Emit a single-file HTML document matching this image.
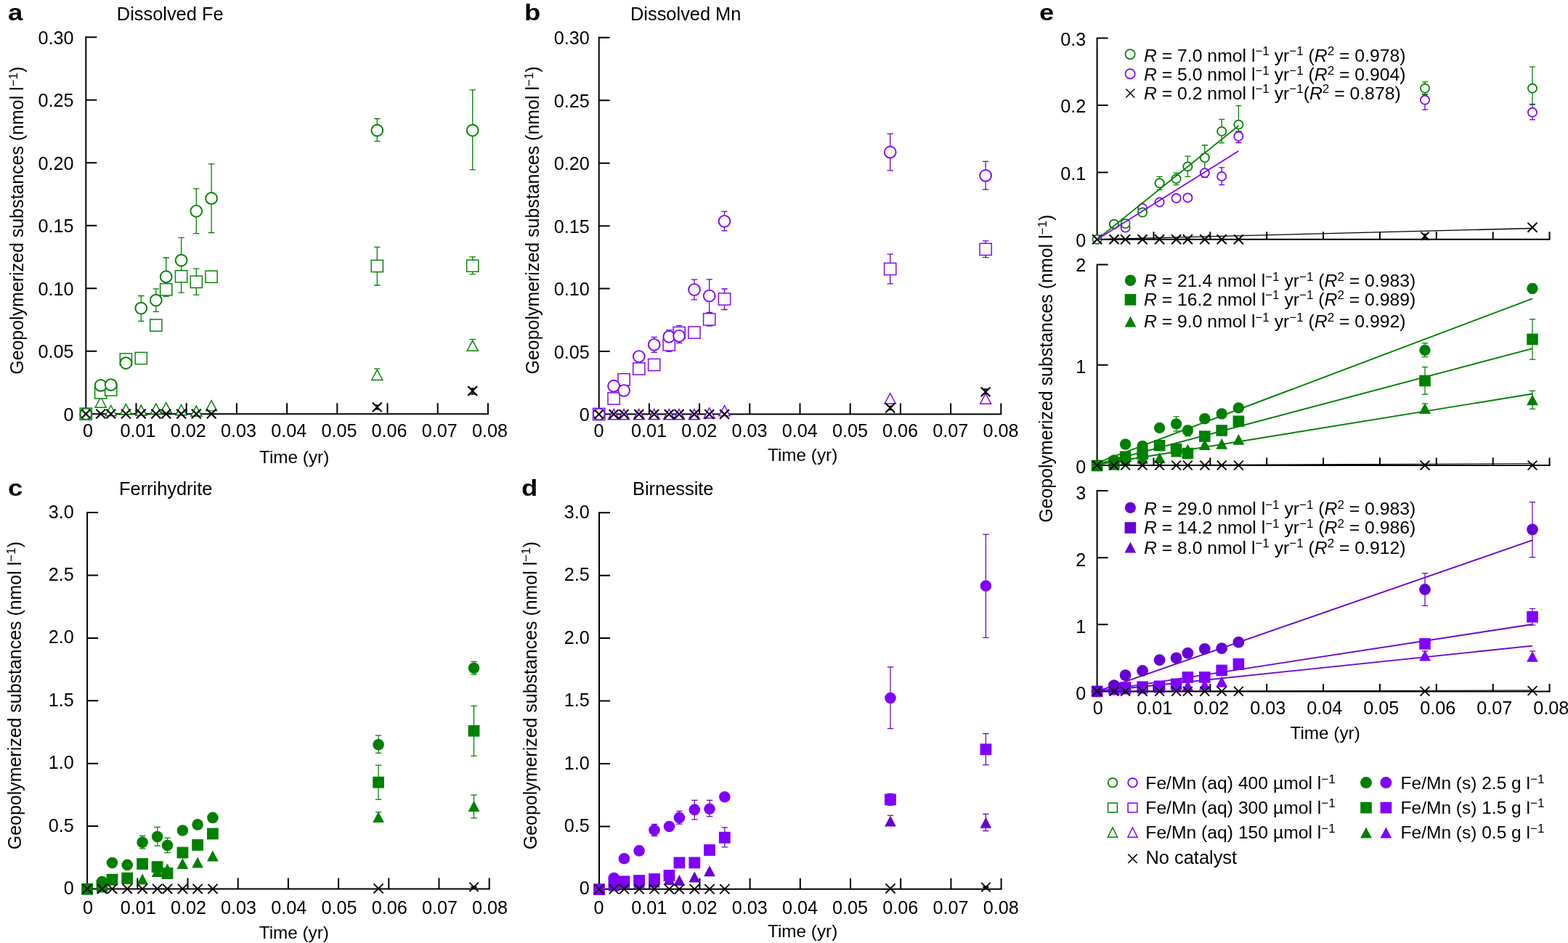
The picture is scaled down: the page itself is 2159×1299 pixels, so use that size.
<!DOCTYPE html>
<html><head><meta charset="utf-8"><title>Geopolymerized substances</title>
<style>html,body{margin:0;padding:0;background:#fff;}svg{display:block;}</style></head>
<body>
<svg width="2159" height="1299" viewBox="0 0 2159 1299" font-family="'Liberation Sans', Arial, Helvetica, sans-serif" fill="#000">
<rect width="2159" height="1299" fill="#fff"/>
<path d="M118.3 51.3V570.2H671.9" stroke="#000" stroke-width="2" fill="none" stroke-linejoin="miter" stroke-linecap="square"/>
<path d="M118.3 483.72h15M118.3 397.24h15M118.3 310.76h15M118.3 224.28h15M118.3 137.8h15M118.3 51.32h15M187.5 570.2v-15M256.7 570.2v-15M325.9 570.2v-15M395.1 570.2v-15M464.3 570.2v-15M533.5 570.2v-15M602.7 570.2v-15M671.9 570.2v-15" stroke="#000" stroke-width="2" fill="none"/>
<text x="101.5" y="579.8" font-size="25.2" text-anchor="end" font-weight="normal" >0</text>
<text x="101.5" y="493.32" font-size="25.2" text-anchor="end" font-weight="normal" >0.05</text>
<text x="101.5" y="406.84" font-size="25.2" text-anchor="end" font-weight="normal" >0.10</text>
<text x="101.5" y="320.36" font-size="25.2" text-anchor="end" font-weight="normal" >0.15</text>
<text x="101.5" y="233.88" font-size="25.2" text-anchor="end" font-weight="normal" >0.20</text>
<text x="101.5" y="147.4" font-size="25.2" text-anchor="end" font-weight="normal" >0.25</text>
<text x="101.5" y="60.92" font-size="25.2" text-anchor="end" font-weight="normal" >0.30</text>
<text x="120.9" y="602.3" font-size="25.2" text-anchor="middle" font-weight="normal" >0</text>
<text x="190.1" y="602.3" font-size="25.2" text-anchor="middle" font-weight="normal" >0.01</text>
<text x="259.3" y="602.3" font-size="25.2" text-anchor="middle" font-weight="normal" >0.02</text>
<text x="328.5" y="602.3" font-size="25.2" text-anchor="middle" font-weight="normal" >0.03</text>
<text x="397.7" y="602.3" font-size="25.2" text-anchor="middle" font-weight="normal" >0.04</text>
<text x="466.9" y="602.3" font-size="25.2" text-anchor="middle" font-weight="normal" >0.05</text>
<text x="536.1" y="602.3" font-size="25.2" text-anchor="middle" font-weight="normal" >0.06</text>
<text x="605.3" y="602.3" font-size="25.2" text-anchor="middle" font-weight="normal" >0.07</text>
<text x="674.5" y="602.3" font-size="25.2" text-anchor="middle" font-weight="normal" >0.08</text>
<text x="357" y="637.5" font-size="24.3" text-anchor="start" font-weight="normal" >Time (yr)</text>
<text x="160.8" y="28" font-size="25.4" text-anchor="start" font-weight="normal" >Dissolved Fe</text>
<text transform="translate(11,28.3) scale(1.14,1)" font-size="32" font-weight="bold">a</text>
<text transform="translate(32.2,303.7) rotate(-90)" font-size="24.95" text-anchor="middle">Geopolymerized substances (nmol l<tspan dy="-8.5" font-size="17">−1</tspan><tspan dy="8.5">)</tspan></text>
<path d="M519.3 508V508" stroke="#008000" stroke-width="1.3" fill="none"/>
<path d="M515.1 508h8.4" stroke="#008000" stroke-width="1.3" fill="none"/>
<path d="M650.7 467.5V467.5" stroke="#008000" stroke-width="1.3" fill="none"/>
<path d="M646.5 467.5h8.4" stroke="#008000" stroke-width="1.3" fill="none"/>
<path d="M270.3 370.1V406.2" stroke="#008000" stroke-width="1.3" fill="none"/>
<path d="M266.1 370.1h8.4M266.1 406.2h8.4" stroke="#008000" stroke-width="1.3" fill="none"/>
<path d="M519.3 340.4V393" stroke="#008000" stroke-width="1.3" fill="none"/>
<path d="M515.1 340.4h8.4M515.1 393h8.4" stroke="#008000" stroke-width="1.3" fill="none"/>
<path d="M650.7 353.8V377.7" stroke="#008000" stroke-width="1.3" fill="none"/>
<path d="M646.5 353.8h8.4M646.5 377.7h8.4" stroke="#008000" stroke-width="1.3" fill="none"/>
<path d="M194.3 407.5V442.3" stroke="#008000" stroke-width="1.3" fill="none"/>
<path d="M190.1 407.5h8.4M190.1 442.3h8.4" stroke="#008000" stroke-width="1.3" fill="none"/>
<path d="M214.8 397.8V429.4" stroke="#008000" stroke-width="1.3" fill="none"/>
<path d="M210.6 397.8h8.4M210.6 429.4h8.4" stroke="#008000" stroke-width="1.3" fill="none"/>
<path d="M228.7 355V408.4" stroke="#008000" stroke-width="1.3" fill="none"/>
<path d="M224.5 355h8.4M224.5 408.4h8.4" stroke="#008000" stroke-width="1.3" fill="none"/>
<path d="M249.6 327.3V403.2" stroke="#008000" stroke-width="1.3" fill="none"/>
<path d="M245.4 327.3h8.4M245.4 403.2h8.4" stroke="#008000" stroke-width="1.3" fill="none"/>
<path d="M270.3 259.8V321.7" stroke="#008000" stroke-width="1.3" fill="none"/>
<path d="M266.1 259.8h8.4M266.1 321.7h8.4" stroke="#008000" stroke-width="1.3" fill="none"/>
<path d="M291.1 225.9V320.5" stroke="#008000" stroke-width="1.3" fill="none"/>
<path d="M286.9 225.9h8.4M286.9 320.5h8.4" stroke="#008000" stroke-width="1.3" fill="none"/>
<path d="M519.3 163.5V194.6" stroke="#008000" stroke-width="1.3" fill="none"/>
<path d="M515.1 163.5h8.4M515.1 194.6h8.4" stroke="#008000" stroke-width="1.3" fill="none"/>
<path d="M650.7 123.8V233.8" stroke="#008000" stroke-width="1.3" fill="none"/>
<path d="M646.5 123.8h8.4M646.5 233.8h8.4" stroke="#008000" stroke-width="1.3" fill="none"/>
<path d="M138.7 547L146.3 561.2H131.1Z" fill="#fff" stroke="#008000" stroke-width="1.4" stroke-linejoin="miter"/>
<path d="M152.7 558.5L160.3 572.7H145.1Z" fill="#fff" stroke="#008000" stroke-width="1.4" stroke-linejoin="miter"/>
<path d="M173.4 556.6L181 570.8H165.8Z" fill="#fff" stroke="#008000" stroke-width="1.4" stroke-linejoin="miter"/>
<path d="M194.3 558.1L201.9 572.3H186.7Z" fill="#fff" stroke="#008000" stroke-width="1.4" stroke-linejoin="miter"/>
<path d="M214.8 556.1L222.4 570.3H207.2Z" fill="#fff" stroke="#008000" stroke-width="1.4" stroke-linejoin="miter"/>
<path d="M228.7 554.6L236.3 568.8H221.1Z" fill="#fff" stroke="#008000" stroke-width="1.4" stroke-linejoin="miter"/>
<path d="M249.6 557.6L257.2 571.8H242Z" fill="#fff" stroke="#008000" stroke-width="1.4" stroke-linejoin="miter"/>
<path d="M270.3 559.1L277.9 573.3H262.7Z" fill="#fff" stroke="#008000" stroke-width="1.4" stroke-linejoin="miter"/>
<path d="M291.1 551.7L298.7 565.9H283.5Z" fill="#fff" stroke="#008000" stroke-width="1.4" stroke-linejoin="miter"/>
<path d="M519.3 509.3L526.9 523.5H511.7Z" fill="#fff" stroke="#008000" stroke-width="1.4" stroke-linejoin="miter"/>
<path d="M650.7 469.1L658.3 483.3H643.1Z" fill="#fff" stroke="#008000" stroke-width="1.4" stroke-linejoin="miter"/>
<rect x="110.2" y="562.1" width="16.2" height="16.2" fill="#fff" stroke="#008000" stroke-width="1.45"/>
<rect x="130.6" y="532.8" width="16.2" height="16.2" fill="#fff" stroke="#008000" stroke-width="1.45"/>
<rect x="144.6" y="528.9" width="16.2" height="16.2" fill="#fff" stroke="#008000" stroke-width="1.45"/>
<rect x="165.3" y="486.9" width="16.2" height="16.2" fill="#fff" stroke="#008000" stroke-width="1.45"/>
<rect x="186.2" y="485.4" width="16.2" height="16.2" fill="#fff" stroke="#008000" stroke-width="1.45"/>
<rect x="206.7" y="440" width="16.2" height="16.2" fill="#fff" stroke="#008000" stroke-width="1.45"/>
<rect x="220.6" y="390.7" width="16.2" height="16.2" fill="#fff" stroke="#008000" stroke-width="1.45"/>
<rect x="241.5" y="372.7" width="16.2" height="16.2" fill="#fff" stroke="#008000" stroke-width="1.45"/>
<rect x="262.2" y="380.2" width="16.2" height="16.2" fill="#fff" stroke="#008000" stroke-width="1.45"/>
<rect x="283" y="373.1" width="16.2" height="16.2" fill="#fff" stroke="#008000" stroke-width="1.45"/>
<rect x="511.2" y="358.4" width="16.2" height="16.2" fill="#fff" stroke="#008000" stroke-width="1.45"/>
<rect x="642.6" y="358.1" width="16.2" height="16.2" fill="#fff" stroke="#008000" stroke-width="1.45"/>
<circle cx="118.3" cy="570.2" r="7.9" fill="#fff" stroke="#008000" stroke-width="1.9"/>
<circle cx="138.7" cy="530.9" r="7.9" fill="#fff" stroke="#008000" stroke-width="1.9"/>
<circle cx="152.7" cy="530.1" r="7.9" fill="#fff" stroke="#008000" stroke-width="1.9"/>
<circle cx="173.4" cy="500.1" r="7.9" fill="#fff" stroke="#008000" stroke-width="1.9"/>
<circle cx="194.3" cy="424.6" r="7.9" fill="#fff" stroke="#008000" stroke-width="1.9"/>
<circle cx="214.8" cy="413.6" r="7.9" fill="#fff" stroke="#008000" stroke-width="1.9"/>
<circle cx="228.7" cy="381.2" r="7.9" fill="#fff" stroke="#008000" stroke-width="1.9"/>
<circle cx="249.6" cy="358.6" r="7.9" fill="#fff" stroke="#008000" stroke-width="1.9"/>
<circle cx="270.3" cy="290.8" r="7.9" fill="#fff" stroke="#008000" stroke-width="1.9"/>
<circle cx="291.1" cy="273.2" r="7.9" fill="#fff" stroke="#008000" stroke-width="1.9"/>
<circle cx="519.3" cy="179.6" r="7.9" fill="#fff" stroke="#008000" stroke-width="1.9"/>
<circle cx="650.7" cy="179.6" r="7.9" fill="#fff" stroke="#008000" stroke-width="1.9"/>
<path d="M111.9 563.8L124.7 576.6M111.9 576.6L124.7 563.8" stroke="#000" stroke-width="2.1" fill="none"/>
<path d="M132.3 563.8L145.1 576.6M132.3 576.6L145.1 563.8" stroke="#000" stroke-width="2.1" fill="none"/>
<path d="M146.3 563.8L159.1 576.6M146.3 576.6L159.1 563.8" stroke="#000" stroke-width="2.1" fill="none"/>
<path d="M167 563.8L179.8 576.6M167 576.6L179.8 563.8" stroke="#000" stroke-width="2.1" fill="none"/>
<path d="M187.9 563.8L200.7 576.6M187.9 576.6L200.7 563.8" stroke="#000" stroke-width="2.1" fill="none"/>
<path d="M208.4 563.8L221.2 576.6M208.4 576.6L221.2 563.8" stroke="#000" stroke-width="2.1" fill="none"/>
<path d="M222.3 563.8L235.1 576.6M222.3 576.6L235.1 563.8" stroke="#000" stroke-width="2.1" fill="none"/>
<path d="M243.2 563.8L256 576.6M243.2 576.6L256 563.8" stroke="#000" stroke-width="2.1" fill="none"/>
<path d="M263.9 563.8L276.7 576.6M263.9 576.6L276.7 563.8" stroke="#000" stroke-width="2.1" fill="none"/>
<path d="M284.7 563.8L297.5 576.6M284.7 576.6L297.5 563.8" stroke="#000" stroke-width="2.1" fill="none"/>
<path d="M512.9 554.4L525.7 567.2M512.9 567.2L525.7 554.4" stroke="#000" stroke-width="2.1" fill="none"/>
<path d="M644.3 532.1L657.1 544.9M644.3 544.9L657.1 532.1" stroke="#000" stroke-width="2.1" fill="none"/>
<path d="M519.3 558.3V563.8" stroke="#000" stroke-width="1.5" fill="none"/>
<path d="M516.05 558.3h6.5M516.05 563.8h6.5" stroke="#000" stroke-width="1.5" fill="none"/>
<path d="M650.7 535V543" stroke="#000" stroke-width="1.5" fill="none"/>
<path d="M647.45 535h6.5M647.45 543h6.5" stroke="#000" stroke-width="1.5" fill="none"/>
<path d="M824.7 51.8V570.5H1378.2" stroke="#000" stroke-width="2" fill="none" stroke-linejoin="miter" stroke-linecap="square"/>
<path d="M824.7 484.05h15M824.7 397.6h15M824.7 311.15h15M824.7 224.7h15M824.7 138.25h15M824.7 51.8h15M893.9 570.5v-15M963.1 570.5v-15M1032.3 570.5v-15M1101.5 570.5v-15M1170.7 570.5v-15M1239.9 570.5v-15M1309.1 570.5v-15M1378.3 570.5v-15" stroke="#000" stroke-width="2" fill="none"/>
<text x="811.8" y="580.1" font-size="25.2" text-anchor="end" font-weight="normal" >0</text>
<text x="811.8" y="493.65" font-size="25.2" text-anchor="end" font-weight="normal" >0.05</text>
<text x="811.8" y="407.2" font-size="25.2" text-anchor="end" font-weight="normal" >0.10</text>
<text x="811.8" y="320.75" font-size="25.2" text-anchor="end" font-weight="normal" >0.15</text>
<text x="811.8" y="234.3" font-size="25.2" text-anchor="end" font-weight="normal" >0.20</text>
<text x="811.8" y="147.85" font-size="25.2" text-anchor="end" font-weight="normal" >0.25</text>
<text x="811.8" y="61.4" font-size="25.2" text-anchor="end" font-weight="normal" >0.30</text>
<text x="824.4" y="602" font-size="25.2" text-anchor="middle" font-weight="normal" >0</text>
<text x="893.6" y="602" font-size="25.2" text-anchor="middle" font-weight="normal" >0.01</text>
<text x="962.8" y="602" font-size="25.2" text-anchor="middle" font-weight="normal" >0.02</text>
<text x="1032" y="602" font-size="25.2" text-anchor="middle" font-weight="normal" >0.03</text>
<text x="1101.2" y="602" font-size="25.2" text-anchor="middle" font-weight="normal" >0.04</text>
<text x="1170.4" y="602" font-size="25.2" text-anchor="middle" font-weight="normal" >0.05</text>
<text x="1239.6" y="602" font-size="25.2" text-anchor="middle" font-weight="normal" >0.06</text>
<text x="1308.8" y="602" font-size="25.2" text-anchor="middle" font-weight="normal" >0.07</text>
<text x="1378" y="602" font-size="25.2" text-anchor="middle" font-weight="normal" >0.08</text>
<text x="1057" y="634.7" font-size="24.3" text-anchor="start" font-weight="normal" >Time (yr)</text>
<text x="868" y="28" font-size="25.4" text-anchor="start" font-weight="normal" >Dissolved Mn</text>
<text transform="translate(722,28.3) scale(1.14,1)" font-size="32" font-weight="bold">b</text>
<text transform="translate(742.4,303.4) rotate(-90)" font-size="24.95" text-anchor="middle">Geopolymerized substances (nmol l<tspan dy="-8.5" font-size="17">−1</tspan><tspan dy="8.5">)</tspan></text>
<path d="M921.2 484.3V472.3" stroke="#6600d4" stroke-width="1.3" fill="none"/>
<path d="M917 484.3h8.4" stroke="#6600d4" stroke-width="1.3" fill="none"/>
<path d="M935.1 448.5V448.5" stroke="#6600d4" stroke-width="1.3" fill="none"/>
<path d="M930.9 448.5h8.4" stroke="#6600d4" stroke-width="1.3" fill="none"/>
<path d="M976.7 449V437" stroke="#6600d4" stroke-width="1.3" fill="none"/>
<path d="M972.5 449h8.4" stroke="#6600d4" stroke-width="1.3" fill="none"/>
<path d="M997.5 398V426.5" stroke="#6600d4" stroke-width="1.3" fill="none"/>
<path d="M993.3 398h8.4M993.3 426.5h8.4" stroke="#6600d4" stroke-width="1.3" fill="none"/>
<path d="M1225.7 350.2V390.8" stroke="#6600d4" stroke-width="1.3" fill="none"/>
<path d="M1221.5 350.2h8.4M1221.5 390.8h8.4" stroke="#6600d4" stroke-width="1.3" fill="none"/>
<path d="M1357.1 331.9V354.6" stroke="#6600d4" stroke-width="1.3" fill="none"/>
<path d="M1352.9 331.9h8.4M1352.9 354.6h8.4" stroke="#6600d4" stroke-width="1.3" fill="none"/>
<path d="M900.7 464.3V485.3" stroke="#6600d4" stroke-width="1.3" fill="none"/>
<path d="M896.5 464.3h8.4M896.5 485.3h8.4" stroke="#6600d4" stroke-width="1.3" fill="none"/>
<path d="M921.2 454.8V454.8" stroke="#6600d4" stroke-width="1.3" fill="none"/>
<path d="M917 454.8h8.4" stroke="#6600d4" stroke-width="1.3" fill="none"/>
<path d="M935.1 472.5V460.5" stroke="#6600d4" stroke-width="1.3" fill="none"/>
<path d="M930.9 472.5h8.4" stroke="#6600d4" stroke-width="1.3" fill="none"/>
<path d="M956 385.2V412.8" stroke="#6600d4" stroke-width="1.3" fill="none"/>
<path d="M951.8 385.2h8.4M951.8 412.8h8.4" stroke="#6600d4" stroke-width="1.3" fill="none"/>
<path d="M976.7 384.8V430.5" stroke="#6600d4" stroke-width="1.3" fill="none"/>
<path d="M972.5 384.8h8.4M972.5 430.5h8.4" stroke="#6600d4" stroke-width="1.3" fill="none"/>
<path d="M997.5 291.3V317.8" stroke="#6600d4" stroke-width="1.3" fill="none"/>
<path d="M993.3 291.3h8.4M993.3 317.8h8.4" stroke="#6600d4" stroke-width="1.3" fill="none"/>
<path d="M1225.7 184.4V234.8" stroke="#6600d4" stroke-width="1.3" fill="none"/>
<path d="M1221.5 184.4h8.4M1221.5 234.8h8.4" stroke="#6600d4" stroke-width="1.3" fill="none"/>
<path d="M1357.1 222.3V261.2" stroke="#6600d4" stroke-width="1.3" fill="none"/>
<path d="M1352.9 222.3h8.4M1352.9 261.2h8.4" stroke="#6600d4" stroke-width="1.3" fill="none"/>
<path d="M845.1 563.6L852.7 577.8H837.5Z" fill="#fff" stroke="#7f00ff" stroke-width="1.4" stroke-linejoin="miter"/>
<path d="M859.1 563.6L866.7 577.8H851.5Z" fill="#fff" stroke="#7f00ff" stroke-width="1.4" stroke-linejoin="miter"/>
<path d="M879.8 563.6L887.4 577.8H872.2Z" fill="#fff" stroke="#7f00ff" stroke-width="1.4" stroke-linejoin="miter"/>
<path d="M900.7 563.6L908.3 577.8H893.1Z" fill="#fff" stroke="#7f00ff" stroke-width="1.4" stroke-linejoin="miter"/>
<path d="M921.2 563.6L928.8 577.8H913.6Z" fill="#fff" stroke="#7f00ff" stroke-width="1.4" stroke-linejoin="miter"/>
<path d="M935.1 563.6L942.7 577.8H927.5Z" fill="#fff" stroke="#7f00ff" stroke-width="1.4" stroke-linejoin="miter"/>
<path d="M956 563.6L963.6 577.8H948.4Z" fill="#fff" stroke="#7f00ff" stroke-width="1.4" stroke-linejoin="miter"/>
<path d="M976.7 561.8L984.3 576H969.1Z" fill="#fff" stroke="#7f00ff" stroke-width="1.4" stroke-linejoin="miter"/>
<path d="M997.5 558.7L1005.1 572.9H989.9Z" fill="#fff" stroke="#7f00ff" stroke-width="1.4" stroke-linejoin="miter"/>
<path d="M1225.7 541.8L1233.3 556H1218.1Z" fill="#fff" stroke="#7f00ff" stroke-width="1.4" stroke-linejoin="miter"/>
<path d="M1357.1 542.1L1364.7 556.3H1349.5Z" fill="#fff" stroke="#7f00ff" stroke-width="1.4" stroke-linejoin="miter"/>
<rect x="816.6" y="562.4" width="16.2" height="16.2" fill="#fff" stroke="#7f00ff" stroke-width="1.45"/>
<rect x="837" y="540.9" width="16.2" height="16.2" fill="#fff" stroke="#7f00ff" stroke-width="1.45"/>
<rect x="851" y="514.7" width="16.2" height="16.2" fill="#fff" stroke="#7f00ff" stroke-width="1.45"/>
<rect x="871.7" y="499.9" width="16.2" height="16.2" fill="#fff" stroke="#7f00ff" stroke-width="1.45"/>
<rect x="892.6" y="494.4" width="16.2" height="16.2" fill="#fff" stroke="#7f00ff" stroke-width="1.45"/>
<rect x="913.1" y="466.7" width="16.2" height="16.2" fill="#fff" stroke="#7f00ff" stroke-width="1.45"/>
<rect x="927" y="450.4" width="16.2" height="16.2" fill="#fff" stroke="#7f00ff" stroke-width="1.45"/>
<rect x="947.9" y="449.9" width="16.2" height="16.2" fill="#fff" stroke="#7f00ff" stroke-width="1.45"/>
<rect x="968.6" y="431.8" width="16.2" height="16.2" fill="#fff" stroke="#7f00ff" stroke-width="1.45"/>
<rect x="989.4" y="403.9" width="16.2" height="16.2" fill="#fff" stroke="#7f00ff" stroke-width="1.45"/>
<rect x="1217.6" y="362.4" width="16.2" height="16.2" fill="#fff" stroke="#7f00ff" stroke-width="1.45"/>
<rect x="1349" y="335.3" width="16.2" height="16.2" fill="#fff" stroke="#7f00ff" stroke-width="1.45"/>
<circle cx="824.7" cy="570.5" r="7.9" fill="#fff" stroke="#7f00ff" stroke-width="1.9"/>
<circle cx="845.1" cy="531.7" r="7.9" fill="#fff" stroke="#7f00ff" stroke-width="1.9"/>
<circle cx="859.1" cy="538" r="7.9" fill="#fff" stroke="#7f00ff" stroke-width="1.9"/>
<circle cx="879.8" cy="491" r="7.9" fill="#fff" stroke="#7f00ff" stroke-width="1.9"/>
<circle cx="900.7" cy="474.8" r="7.9" fill="#fff" stroke="#7f00ff" stroke-width="1.9"/>
<circle cx="921.2" cy="463.8" r="7.9" fill="#fff" stroke="#7f00ff" stroke-width="1.9"/>
<circle cx="935.1" cy="462.8" r="7.9" fill="#fff" stroke="#7f00ff" stroke-width="1.9"/>
<circle cx="956" cy="399" r="7.9" fill="#fff" stroke="#7f00ff" stroke-width="1.9"/>
<circle cx="976.7" cy="407.5" r="7.9" fill="#fff" stroke="#7f00ff" stroke-width="1.9"/>
<circle cx="997.5" cy="304.8" r="7.9" fill="#fff" stroke="#7f00ff" stroke-width="1.9"/>
<circle cx="1225.7" cy="209.7" r="7.9" fill="#fff" stroke="#7f00ff" stroke-width="1.9"/>
<circle cx="1357.1" cy="241.9" r="7.9" fill="#fff" stroke="#7f00ff" stroke-width="1.9"/>
<path d="M818.3 564.2L831.1 577M818.3 577L831.1 564.2" stroke="#000" stroke-width="2.1" fill="none"/>
<path d="M838.7 564.2L851.5 577M838.7 577L851.5 564.2" stroke="#000" stroke-width="2.1" fill="none"/>
<path d="M852.7 564.2L865.5 577M852.7 577L865.5 564.2" stroke="#000" stroke-width="2.1" fill="none"/>
<path d="M873.4 564.2L886.2 577M873.4 577L886.2 564.2" stroke="#000" stroke-width="2.1" fill="none"/>
<path d="M894.3 564.2L907.1 577M894.3 577L907.1 564.2" stroke="#000" stroke-width="2.1" fill="none"/>
<path d="M914.8 564.2L927.6 577M914.8 577L927.6 564.2" stroke="#000" stroke-width="2.1" fill="none"/>
<path d="M928.7 564.2L941.5 577M928.7 577L941.5 564.2" stroke="#000" stroke-width="2.1" fill="none"/>
<path d="M949.6 564.2L962.4 577M949.6 577L962.4 564.2" stroke="#000" stroke-width="2.1" fill="none"/>
<path d="M970.3 564.2L983.1 577M970.3 577L983.1 564.2" stroke="#000" stroke-width="2.1" fill="none"/>
<path d="M991.1 564.2L1003.9 577M991.1 577L1003.9 564.2" stroke="#000" stroke-width="2.1" fill="none"/>
<path d="M1219.3 555.6L1232.1 568.4M1219.3 568.4L1232.1 555.6" stroke="#000" stroke-width="2.1" fill="none"/>
<path d="M1350.7 533.4L1363.5 546.2M1350.7 546.2L1363.5 533.4" stroke="#000" stroke-width="2.1" fill="none"/>
<path d="M1225.7 559.5V564.5" stroke="#000" stroke-width="1.5" fill="none"/>
<path d="M1222.7 559.5h6M1222.7 564.5h6" stroke="#000" stroke-width="1.5" fill="none"/>
<path d="M1357.1 536V542.5" stroke="#000" stroke-width="1.5" fill="none"/>
<path d="M1353.85 536h6.5M1353.85 542.5h6.5" stroke="#000" stroke-width="1.5" fill="none"/>
<path d="M120.1 706.1V1224.4H673.7" stroke="#000" stroke-width="2" fill="none" stroke-linejoin="miter" stroke-linecap="square"/>
<path d="M120.1 1138.02h15M120.1 1051.64h15M120.1 965.26h15M120.1 878.88h15M120.1 792.5h15M120.1 706.12h15M189.3 1224.4v-15M258.5 1224.4v-15M327.7 1224.4v-15M396.9 1224.4v-15M466.1 1224.4v-15M535.3 1224.4v-15M604.5 1224.4v-15M673.7 1224.4v-15" stroke="#000" stroke-width="2" fill="none"/>
<text x="101.8" y="1232" font-size="25.2" text-anchor="end" font-weight="normal" >0</text>
<text x="101.8" y="1145.62" font-size="25.2" text-anchor="end" font-weight="normal" >0.5</text>
<text x="101.8" y="1059.24" font-size="25.2" text-anchor="end" font-weight="normal" >1.0</text>
<text x="101.8" y="972.86" font-size="25.2" text-anchor="end" font-weight="normal" >1.5</text>
<text x="101.8" y="886.48" font-size="25.2" text-anchor="end" font-weight="normal" >2.0</text>
<text x="101.8" y="800.1" font-size="25.2" text-anchor="end" font-weight="normal" >2.5</text>
<text x="101.8" y="713.72" font-size="25.2" text-anchor="end" font-weight="normal" >3.0</text>
<text x="121" y="1258.6" font-size="25.2" text-anchor="middle" font-weight="normal" >0</text>
<text x="190.2" y="1258.6" font-size="25.2" text-anchor="middle" font-weight="normal" >0.01</text>
<text x="259.4" y="1258.6" font-size="25.2" text-anchor="middle" font-weight="normal" >0.02</text>
<text x="328.6" y="1258.6" font-size="25.2" text-anchor="middle" font-weight="normal" >0.03</text>
<text x="397.8" y="1258.6" font-size="25.2" text-anchor="middle" font-weight="normal" >0.04</text>
<text x="467" y="1258.6" font-size="25.2" text-anchor="middle" font-weight="normal" >0.05</text>
<text x="536.2" y="1258.6" font-size="25.2" text-anchor="middle" font-weight="normal" >0.06</text>
<text x="605.4" y="1258.6" font-size="25.2" text-anchor="middle" font-weight="normal" >0.07</text>
<text x="674.6" y="1258.6" font-size="25.2" text-anchor="middle" font-weight="normal" >0.08</text>
<text x="356.7" y="1293.3" font-size="24.3" text-anchor="start" font-weight="normal" >Time (yr)</text>
<text x="164" y="682.2" font-size="25.4" text-anchor="start" font-weight="normal" >Ferrihydrite</text>
<text transform="translate(11,682.5) scale(1.14,1)" font-size="32" font-weight="bold">c</text>
<text transform="translate(29.4,958.1) rotate(-90)" font-size="24.95" text-anchor="middle">Geopolymerized substances (nmol l<tspan dy="-8.5" font-size="17">−1</tspan><tspan dy="8.5">)</tspan></text>
<path d="M521.1 1118.7V1118.7" stroke="#008000" stroke-width="1.25" fill="none"/>
<path d="M516.9 1118.7h8.4" stroke="#008000" stroke-width="1.25" fill="none"/>
<path d="M652.5 1095.2V1126.8" stroke="#008000" stroke-width="1.25" fill="none"/>
<path d="M648.3 1095.2h8.4M648.3 1126.8h8.4" stroke="#008000" stroke-width="1.25" fill="none"/>
<path d="M521.1 1054.2V1101.3" stroke="#008000" stroke-width="1.25" fill="none"/>
<path d="M516.9 1054.2h8.4M516.9 1101.3h8.4" stroke="#008000" stroke-width="1.25" fill="none"/>
<path d="M652.5 972.3V1041.3" stroke="#008000" stroke-width="1.25" fill="none"/>
<path d="M648.3 972.3h8.4M648.3 1041.3h8.4" stroke="#008000" stroke-width="1.25" fill="none"/>
<path d="M196.1 1151.4V1168.8" stroke="#008000" stroke-width="1.25" fill="none"/>
<path d="M191.9 1151.4h8.4M191.9 1168.8h8.4" stroke="#008000" stroke-width="1.25" fill="none"/>
<path d="M216.6 1139.4V1165.2" stroke="#008000" stroke-width="1.25" fill="none"/>
<path d="M212.4 1139.4h8.4M212.4 1165.2h8.4" stroke="#008000" stroke-width="1.25" fill="none"/>
<path d="M230.5 1154V1174.5" stroke="#008000" stroke-width="1.25" fill="none"/>
<path d="M226.3 1154h8.4M226.3 1174.5h8.4" stroke="#008000" stroke-width="1.25" fill="none"/>
<path d="M521.1 1013.2V1037.4" stroke="#008000" stroke-width="1.25" fill="none"/>
<path d="M516.9 1013.2h8.4M516.9 1037.4h8.4" stroke="#008000" stroke-width="1.25" fill="none"/>
<path d="M652.5 911.3V929" stroke="#008000" stroke-width="1.25" fill="none"/>
<path d="M648.3 911.3h8.4M648.3 929h8.4" stroke="#008000" stroke-width="1.25" fill="none"/>
<path d="M140.5 1214.4L148.4 1229.4H132.6Z" fill="#008000"/>
<path d="M154.5 1204.4L162.4 1219.4H146.6Z" fill="#008000"/>
<path d="M175.2 1202.9L183.1 1217.9H167.3Z" fill="#008000"/>
<path d="M196.1 1203.6L204 1218.6H188.2Z" fill="#008000"/>
<path d="M216.6 1192.9L224.5 1207.9H208.7Z" fill="#008000"/>
<path d="M230.5 1189.4L238.4 1204.4H222.6Z" fill="#008000"/>
<path d="M251.4 1182.1L259.3 1197.1H243.5Z" fill="#008000"/>
<path d="M272.1 1180.6L280 1195.6H264.2Z" fill="#008000"/>
<path d="M292.9 1171.5L300.8 1186.5H285Z" fill="#008000"/>
<path d="M521.1 1117.9L529 1132.9H513.2Z" fill="#008000"/>
<path d="M652.5 1103L660.4 1118H644.6Z" fill="#008000"/>
<rect x="112.2" y="1216.9" width="15.8" height="15.8" fill="#008000"/>
<rect x="132.6" y="1211.9" width="15.8" height="15.8" fill="#008000"/>
<rect x="146.6" y="1203.8" width="15.8" height="15.8" fill="#008000"/>
<rect x="167.3" y="1201.8" width="15.8" height="15.8" fill="#008000"/>
<rect x="188.2" y="1182.1" width="15.8" height="15.8" fill="#008000"/>
<rect x="208.7" y="1186.2" width="15.8" height="15.8" fill="#008000"/>
<rect x="222.6" y="1195.1" width="15.8" height="15.8" fill="#008000"/>
<rect x="243.5" y="1166.6" width="15.8" height="15.8" fill="#008000"/>
<rect x="264.2" y="1156.1" width="15.8" height="15.8" fill="#008000"/>
<rect x="285" y="1140.6" width="15.8" height="15.8" fill="#008000"/>
<rect x="513.2" y="1069.8" width="15.8" height="15.8" fill="#008000"/>
<rect x="644.6" y="998.9" width="15.8" height="15.8" fill="#008000"/>
<circle cx="120.1" cy="1224.4" r="7.8" fill="#008000"/>
<circle cx="140.5" cy="1214.5" r="7.8" fill="#008000"/>
<circle cx="154.5" cy="1188.6" r="7.8" fill="#008000"/>
<circle cx="175.2" cy="1191.4" r="7.8" fill="#008000"/>
<circle cx="196.1" cy="1160.2" r="7.8" fill="#008000"/>
<circle cx="216.6" cy="1152.6" r="7.8" fill="#008000"/>
<circle cx="230.5" cy="1164.5" r="7.8" fill="#008000"/>
<circle cx="251.4" cy="1144" r="7.8" fill="#008000"/>
<circle cx="272.1" cy="1135.9" r="7.8" fill="#008000"/>
<circle cx="292.9" cy="1126.4" r="7.8" fill="#008000"/>
<circle cx="521.1" cy="1025.8" r="7.8" fill="#008000"/>
<circle cx="652.5" cy="920.3" r="7.8" fill="#008000"/>
<path d="M113.5 1217.8L126.7 1231M113.5 1231L126.7 1217.8" stroke="#000" stroke-width="1.85" fill="none"/>
<path d="M133.9 1217.8L147.1 1231M133.9 1231L147.1 1217.8" stroke="#000" stroke-width="1.85" fill="none"/>
<path d="M147.9 1217.8L161.1 1231M147.9 1231L161.1 1217.8" stroke="#000" stroke-width="1.85" fill="none"/>
<path d="M168.6 1217.8L181.8 1231M168.6 1231L181.8 1217.8" stroke="#000" stroke-width="1.85" fill="none"/>
<path d="M189.5 1217.8L202.7 1231M189.5 1231L202.7 1217.8" stroke="#000" stroke-width="1.85" fill="none"/>
<path d="M210 1217.8L223.2 1231M210 1231L223.2 1217.8" stroke="#000" stroke-width="1.85" fill="none"/>
<path d="M223.9 1217.8L237.1 1231M223.9 1231L237.1 1217.8" stroke="#000" stroke-width="1.85" fill="none"/>
<path d="M244.8 1217.8L258 1231M244.8 1231L258 1217.8" stroke="#000" stroke-width="1.85" fill="none"/>
<path d="M265.5 1217.8L278.7 1231M265.5 1231L278.7 1217.8" stroke="#000" stroke-width="1.85" fill="none"/>
<path d="M286.3 1217.8L299.5 1231M286.3 1231L299.5 1217.8" stroke="#000" stroke-width="1.85" fill="none"/>
<path d="M514.5 1217.3L527.7 1230.5M514.5 1230.5L527.7 1217.3" stroke="#000" stroke-width="1.85" fill="none"/>
<path d="M646.3 1215.7L658.7 1228.1M646.3 1228.1L658.7 1215.7" stroke="#000" stroke-width="1.85" fill="none"/>
<path d="M652.5 1221.4V1222.4" stroke="#000" stroke-width="1.5" fill="none"/>
<path d="M648.5 1221.4h8M648.5 1222.4h8" stroke="#000" stroke-width="1.5" fill="none"/>
<path d="M825 706.3V1224.8H1378.5" stroke="#000" stroke-width="2" fill="none" stroke-linejoin="miter" stroke-linecap="square"/>
<path d="M825 1138.38h15M825 1051.96h15M825 965.54h15M825 879.12h15M825 792.7h15M825 706.28h15M894.2 1224.8v-15M963.4 1224.8v-15M1032.6 1224.8v-15M1101.8 1224.8v-15M1171 1224.8v-15M1240.2 1224.8v-15M1309.4 1224.8v-15M1378.6 1224.8v-15" stroke="#000" stroke-width="2" fill="none"/>
<text x="811.8" y="1232.4" font-size="25.2" text-anchor="end" font-weight="normal" >0</text>
<text x="811.8" y="1145.98" font-size="25.2" text-anchor="end" font-weight="normal" >0.5</text>
<text x="811.8" y="1059.56" font-size="25.2" text-anchor="end" font-weight="normal" >1.0</text>
<text x="811.8" y="973.14" font-size="25.2" text-anchor="end" font-weight="normal" >1.5</text>
<text x="811.8" y="886.72" font-size="25.2" text-anchor="end" font-weight="normal" >2.0</text>
<text x="811.8" y="800.3" font-size="25.2" text-anchor="end" font-weight="normal" >2.5</text>
<text x="811.8" y="713.88" font-size="25.2" text-anchor="end" font-weight="normal" >3.0</text>
<text x="824.6" y="1258.6" font-size="25.2" text-anchor="middle" font-weight="normal" >0</text>
<text x="893.8" y="1258.6" font-size="25.2" text-anchor="middle" font-weight="normal" >0.01</text>
<text x="963" y="1258.6" font-size="25.2" text-anchor="middle" font-weight="normal" >0.02</text>
<text x="1032.2" y="1258.6" font-size="25.2" text-anchor="middle" font-weight="normal" >0.03</text>
<text x="1101.4" y="1258.6" font-size="25.2" text-anchor="middle" font-weight="normal" >0.04</text>
<text x="1170.6" y="1258.6" font-size="25.2" text-anchor="middle" font-weight="normal" >0.05</text>
<text x="1239.8" y="1258.6" font-size="25.2" text-anchor="middle" font-weight="normal" >0.06</text>
<text x="1309" y="1258.6" font-size="25.2" text-anchor="middle" font-weight="normal" >0.07</text>
<text x="1378.2" y="1258.6" font-size="25.2" text-anchor="middle" font-weight="normal" >0.08</text>
<text x="1057" y="1290.8" font-size="24.3" text-anchor="start" font-weight="normal" >Time (yr)</text>
<text x="871" y="682.2" font-size="25.4" text-anchor="start" font-weight="normal" >Birnessite</text>
<text transform="translate(718,682.8) scale(1.14,1)" font-size="32" font-weight="bold">d</text>
<text transform="translate(738.9,958.1) rotate(-90)" font-size="24.95" text-anchor="middle">Geopolymerized substances (nmol l<tspan dy="-8.5" font-size="17">−1</tspan><tspan dy="8.5">)</tspan></text>
<path d="M1226 1123.3V1123.3" stroke="#6600d4" stroke-width="1.25" fill="none"/>
<path d="M1221.8 1123.3h8.4" stroke="#6600d4" stroke-width="1.25" fill="none"/>
<path d="M1357.4 1121.3V1144.5" stroke="#6600d4" stroke-width="1.25" fill="none"/>
<path d="M1353.2 1121.3h8.4M1353.2 1144.5h8.4" stroke="#6600d4" stroke-width="1.25" fill="none"/>
<path d="M997.8 1139.8V1166.8" stroke="#6600d4" stroke-width="1.25" fill="none"/>
<path d="M993.6 1139.8h8.4M993.6 1166.8h8.4" stroke="#6600d4" stroke-width="1.25" fill="none"/>
<path d="M1226 1093.4V1109.3" stroke="#6600d4" stroke-width="1.25" fill="none"/>
<path d="M1221.8 1093.4h8.4M1221.8 1109.3h8.4" stroke="#6600d4" stroke-width="1.25" fill="none"/>
<path d="M1357.4 1010.7V1053.5" stroke="#6600d4" stroke-width="1.25" fill="none"/>
<path d="M1353.2 1010.7h8.4M1353.2 1053.5h8.4" stroke="#6600d4" stroke-width="1.25" fill="none"/>
<path d="M901 1135.3V1151.6" stroke="#6600d4" stroke-width="1.25" fill="none"/>
<path d="M896.8 1135.3h8.4M896.8 1151.6h8.4" stroke="#6600d4" stroke-width="1.25" fill="none"/>
<path d="M935.4 1117.4V1135.1" stroke="#6600d4" stroke-width="1.25" fill="none"/>
<path d="M931.2 1117.4h8.4M931.2 1135.1h8.4" stroke="#6600d4" stroke-width="1.25" fill="none"/>
<path d="M956.3 1102.3V1128.9" stroke="#6600d4" stroke-width="1.25" fill="none"/>
<path d="M952.1 1102.3h8.4M952.1 1128.9h8.4" stroke="#6600d4" stroke-width="1.25" fill="none"/>
<path d="M977 1102.4V1124.7" stroke="#6600d4" stroke-width="1.25" fill="none"/>
<path d="M972.8 1102.4h8.4M972.8 1124.7h8.4" stroke="#6600d4" stroke-width="1.25" fill="none"/>
<path d="M1226 918.9V1003.6" stroke="#6600d4" stroke-width="1.25" fill="none"/>
<path d="M1221.8 918.9h8.4M1221.8 1003.6h8.4" stroke="#6600d4" stroke-width="1.25" fill="none"/>
<path d="M1357.4 736.2V878.4" stroke="#6600d4" stroke-width="1.25" fill="none"/>
<path d="M1353.2 736.2h8.4M1353.2 878.4h8.4" stroke="#6600d4" stroke-width="1.25" fill="none"/>
<path d="M845.4 1212.4L853.3 1227.4H837.5Z" fill="#6600d4"/>
<path d="M859.4 1208.4L867.3 1223.4H851.5Z" fill="#6600d4"/>
<path d="M880.1 1208.4L888 1223.4H872.2Z" fill="#6600d4"/>
<path d="M901 1207.6L908.9 1222.6H893.1Z" fill="#6600d4"/>
<path d="M921.5 1203.9L929.4 1218.9H913.6Z" fill="#6600d4"/>
<path d="M935.4 1204.9L943.3 1219.9H927.5Z" fill="#6600d4"/>
<path d="M956.3 1200.6L964.2 1215.6H948.4Z" fill="#6600d4"/>
<path d="M977 1192.2L984.9 1207.2H969.1Z" fill="#6600d4"/>
<path d="M997.8 1146.4L1005.7 1161.4H989.9Z" fill="#6600d4"/>
<path d="M1226 1123.4L1233.9 1138.4H1218.1Z" fill="#6600d4"/>
<path d="M1357.4 1125.7L1365.3 1140.7H1349.5Z" fill="#6600d4"/>
<rect x="817.1" y="1217.3" width="15.8" height="15.8" fill="#7f00ff"/>
<rect x="837.5" y="1209.1" width="15.8" height="15.8" fill="#7f00ff"/>
<rect x="851.5" y="1206.4" width="15.8" height="15.8" fill="#7f00ff"/>
<rect x="872.2" y="1205.1" width="15.8" height="15.8" fill="#7f00ff"/>
<rect x="893.1" y="1203.1" width="15.8" height="15.8" fill="#7f00ff"/>
<rect x="913.6" y="1198.1" width="15.8" height="15.8" fill="#7f00ff"/>
<rect x="927.5" y="1180.5" width="15.8" height="15.8" fill="#7f00ff"/>
<rect x="948.4" y="1180.5" width="15.8" height="15.8" fill="#7f00ff"/>
<rect x="969.1" y="1163.1" width="15.8" height="15.8" fill="#7f00ff"/>
<rect x="989.9" y="1145.8" width="15.8" height="15.8" fill="#7f00ff"/>
<rect x="1218.1" y="1093.5" width="15.8" height="15.8" fill="#7f00ff"/>
<rect x="1349.5" y="1024.4" width="15.8" height="15.8" fill="#7f00ff"/>
<circle cx="825" cy="1224.8" r="7.8" fill="#7f00ff"/>
<circle cx="845.4" cy="1209.6" r="7.8" fill="#7f00ff"/>
<circle cx="859.4" cy="1182.8" r="7.8" fill="#7f00ff"/>
<circle cx="880.1" cy="1171.9" r="7.8" fill="#7f00ff"/>
<circle cx="901" cy="1143.6" r="7.8" fill="#7f00ff"/>
<circle cx="921.5" cy="1138.5" r="7.8" fill="#7f00ff"/>
<circle cx="935.4" cy="1126.4" r="7.8" fill="#7f00ff"/>
<circle cx="956.3" cy="1115.4" r="7.8" fill="#7f00ff"/>
<circle cx="977" cy="1114.2" r="7.8" fill="#7f00ff"/>
<circle cx="997.8" cy="1097.7" r="7.8" fill="#7f00ff"/>
<circle cx="1226" cy="961.6" r="7.8" fill="#7f00ff"/>
<circle cx="1357.4" cy="807.1" r="7.8" fill="#7f00ff"/>
<path d="M818.4 1218.2L831.6 1231.4M818.4 1231.4L831.6 1218.2" stroke="#000" stroke-width="1.85" fill="none"/>
<path d="M838.8 1218.2L852 1231.4M838.8 1231.4L852 1218.2" stroke="#000" stroke-width="1.85" fill="none"/>
<path d="M852.8 1218.2L866 1231.4M852.8 1231.4L866 1218.2" stroke="#000" stroke-width="1.85" fill="none"/>
<path d="M873.5 1218.2L886.7 1231.4M873.5 1231.4L886.7 1218.2" stroke="#000" stroke-width="1.85" fill="none"/>
<path d="M894.4 1218.2L907.6 1231.4M894.4 1231.4L907.6 1218.2" stroke="#000" stroke-width="1.85" fill="none"/>
<path d="M914.9 1218.2L928.1 1231.4M914.9 1231.4L928.1 1218.2" stroke="#000" stroke-width="1.85" fill="none"/>
<path d="M928.8 1218.2L942 1231.4M928.8 1231.4L942 1218.2" stroke="#000" stroke-width="1.85" fill="none"/>
<path d="M949.7 1218.2L962.9 1231.4M949.7 1231.4L962.9 1218.2" stroke="#000" stroke-width="1.85" fill="none"/>
<path d="M970.4 1218.2L983.6 1231.4M970.4 1231.4L983.6 1218.2" stroke="#000" stroke-width="1.85" fill="none"/>
<path d="M991.2 1218.2L1004.4 1231.4M991.2 1231.4L1004.4 1218.2" stroke="#000" stroke-width="1.85" fill="none"/>
<path d="M1219.4 1217.3L1232.6 1230.5M1219.4 1230.5L1232.6 1217.3" stroke="#000" stroke-width="1.85" fill="none"/>
<path d="M1351.2 1215.9L1363.6 1228.3M1351.2 1228.3L1363.6 1215.9" stroke="#000" stroke-width="1.85" fill="none"/>
<path d="M1357.4 1221.6V1222.6" stroke="#000" stroke-width="1.5" fill="none"/>
<path d="M1353.4 1221.6h8M1353.4 1222.6h8" stroke="#000" stroke-width="1.5" fill="none"/>
<path d="M1510.6 52.8V329.8H2133.56" stroke="#000" stroke-width="2" fill="none" stroke-linejoin="miter" stroke-linecap="square"/>
<path d="M1510.6 237.4h15M1510.6 145h15M1510.6 52.6h15M1588.47 329.8v-10.5M1666.34 329.8v-10.5M1744.21 329.8v-10.5M1822.08 329.8v-10.5M1899.95 329.8v-10.5M1977.82 329.8v-10.5M2055.69 329.8v-10.5M2133.56 329.8v-10.5" stroke="#000" stroke-width="2" fill="none"/>
<text x="1495.2" y="340.1" font-size="25.2" text-anchor="end" font-weight="normal" >0</text>
<text x="1495.2" y="247.7" font-size="25.2" text-anchor="end" font-weight="normal" >0.1</text>
<text x="1495.2" y="155.3" font-size="25.2" text-anchor="end" font-weight="normal" >0.2</text>
<text x="1495.2" y="62.9" font-size="25.2" text-anchor="end" font-weight="normal" >0.3</text>
<path d="M1658.8 233.5V244.3" stroke="#6600d4" stroke-width="1.3" fill="none"/>
<path d="M1654.8 233.5h8M1654.8 244.3h8" stroke="#6600d4" stroke-width="1.3" fill="none"/>
<path d="M1682.2 230.8V254.7" stroke="#6600d4" stroke-width="1.3" fill="none"/>
<path d="M1678.2 230.8h8M1678.2 254.7h8" stroke="#6600d4" stroke-width="1.3" fill="none"/>
<path d="M1705.4 180.9V196.5" stroke="#6600d4" stroke-width="1.3" fill="none"/>
<path d="M1701.4 180.9h8M1701.4 196.5h8" stroke="#6600d4" stroke-width="1.3" fill="none"/>
<path d="M1962 130V151.1" stroke="#6600d4" stroke-width="1.3" fill="none"/>
<path d="M1958 130h8M1958 151.1h8" stroke="#6600d4" stroke-width="1.3" fill="none"/>
<path d="M2110 144V164.8" stroke="#6600d4" stroke-width="1.3" fill="none"/>
<path d="M2106 144h8M2106 164.8h8" stroke="#6600d4" stroke-width="1.3" fill="none"/>
<path d="M1596.6 243.3V261.4" stroke="#008000" stroke-width="1.3" fill="none"/>
<path d="M1592.6 243.3h8M1592.6 261.4h8" stroke="#008000" stroke-width="1.3" fill="none"/>
<path d="M1619.6 238.1V254.7" stroke="#008000" stroke-width="1.3" fill="none"/>
<path d="M1615.6 238.1h8M1615.6 254.7h8" stroke="#008000" stroke-width="1.3" fill="none"/>
<path d="M1635.4 215.2V243.3" stroke="#008000" stroke-width="1.3" fill="none"/>
<path d="M1631.4 215.2h8M1631.4 243.3h8" stroke="#008000" stroke-width="1.3" fill="none"/>
<path d="M1658.8 200V235" stroke="#008000" stroke-width="1.3" fill="none"/>
<path d="M1654.8 200h8M1654.8 235h8" stroke="#008000" stroke-width="1.3" fill="none"/>
<path d="M1682.2 164.3V196.9" stroke="#008000" stroke-width="1.3" fill="none"/>
<path d="M1678.2 164.3h8M1678.2 196.9h8" stroke="#008000" stroke-width="1.3" fill="none"/>
<path d="M1705.4 145.6V181" stroke="#008000" stroke-width="1.3" fill="none"/>
<path d="M1701.4 145.6h8M1701.4 181h8" stroke="#008000" stroke-width="1.3" fill="none"/>
<path d="M1962 112.8V130" stroke="#008000" stroke-width="1.3" fill="none"/>
<path d="M1958 112.8h8M1958 130h8" stroke="#008000" stroke-width="1.3" fill="none"/>
<path d="M2110 92.1V143.4" stroke="#008000" stroke-width="1.3" fill="none"/>
<path d="M2106 92.1h8M2106 143.4h8" stroke="#008000" stroke-width="1.3" fill="none"/>
<circle cx="1534" cy="308.9" r="6.1" fill="#fff" stroke="#7f00ff" stroke-width="1.75"/>
<circle cx="1549.6" cy="313.6" r="6.1" fill="#fff" stroke="#7f00ff" stroke-width="1.75"/>
<circle cx="1573.1" cy="286.6" r="6.1" fill="#fff" stroke="#7f00ff" stroke-width="1.75"/>
<circle cx="1596.6" cy="278.4" r="6.1" fill="#fff" stroke="#7f00ff" stroke-width="1.75"/>
<circle cx="1619.6" cy="273" r="6.1" fill="#fff" stroke="#7f00ff" stroke-width="1.75"/>
<circle cx="1635.4" cy="272.4" r="6.1" fill="#fff" stroke="#7f00ff" stroke-width="1.75"/>
<circle cx="1658.8" cy="238.1" r="6.1" fill="#fff" stroke="#7f00ff" stroke-width="1.75"/>
<circle cx="1682.2" cy="242.9" r="6.1" fill="#fff" stroke="#7f00ff" stroke-width="1.75"/>
<circle cx="1705.4" cy="187.8" r="6.1" fill="#fff" stroke="#7f00ff" stroke-width="1.75"/>
<circle cx="1962" cy="137.6" r="6.1" fill="#fff" stroke="#7f00ff" stroke-width="1.75"/>
<circle cx="2110" cy="154.8" r="6.1" fill="#fff" stroke="#7f00ff" stroke-width="1.75"/>
<circle cx="1510.6" cy="329.8" r="6.1" fill="#fff" stroke="#008000" stroke-width="1.75"/>
<circle cx="1534" cy="308.6" r="6.1" fill="#fff" stroke="#008000" stroke-width="1.75"/>
<circle cx="1549.6" cy="308" r="6.1" fill="#fff" stroke="#008000" stroke-width="1.75"/>
<circle cx="1573.1" cy="292.5" r="6.1" fill="#fff" stroke="#008000" stroke-width="1.75"/>
<circle cx="1596.6" cy="252.2" r="6.1" fill="#fff" stroke="#008000" stroke-width="1.75"/>
<circle cx="1619.6" cy="246.4" r="6.1" fill="#fff" stroke="#008000" stroke-width="1.75"/>
<circle cx="1635.4" cy="229.4" r="6.1" fill="#fff" stroke="#008000" stroke-width="1.75"/>
<circle cx="1658.8" cy="217.3" r="6.1" fill="#fff" stroke="#008000" stroke-width="1.75"/>
<circle cx="1682.2" cy="180.9" r="6.1" fill="#fff" stroke="#008000" stroke-width="1.75"/>
<circle cx="1705.4" cy="171.6" r="6.1" fill="#fff" stroke="#008000" stroke-width="1.75"/>
<circle cx="1962" cy="121.6" r="6.1" fill="#fff" stroke="#008000" stroke-width="1.75"/>
<circle cx="2110" cy="121.6" r="6.1" fill="#fff" stroke="#008000" stroke-width="1.75"/>
<path d="M1504.1 323.3L1517.1 336.3M1504.1 336.3L1517.1 323.3" stroke="#000" stroke-width="2" fill="none"/>
<path d="M1527.5 323.3L1540.5 336.3M1527.5 336.3L1540.5 323.3" stroke="#000" stroke-width="2" fill="none"/>
<path d="M1543.1 323.3L1556.1 336.3M1543.1 336.3L1556.1 323.3" stroke="#000" stroke-width="2" fill="none"/>
<path d="M1566.6 323.3L1579.6 336.3M1566.6 336.3L1579.6 323.3" stroke="#000" stroke-width="2" fill="none"/>
<path d="M1590.1 323.3L1603.1 336.3M1590.1 336.3L1603.1 323.3" stroke="#000" stroke-width="2" fill="none"/>
<path d="M1613.1 323.3L1626.1 336.3M1613.1 336.3L1626.1 323.3" stroke="#000" stroke-width="2" fill="none"/>
<path d="M1628.9 323.3L1641.9 336.3M1628.9 336.3L1641.9 323.3" stroke="#000" stroke-width="2" fill="none"/>
<path d="M1652.3 323.3L1665.3 336.3M1652.3 336.3L1665.3 323.3" stroke="#000" stroke-width="2" fill="none"/>
<path d="M1675.7 323.3L1688.7 336.3M1675.7 336.3L1688.7 323.3" stroke="#000" stroke-width="2" fill="none"/>
<path d="M1698.9 323.3L1711.9 336.3M1698.9 336.3L1711.9 323.3" stroke="#000" stroke-width="2" fill="none"/>
<path d="M1956.5 319.8L1967.5 330.8M1956.5 330.8L1967.5 319.8" stroke="#000" stroke-width="2" fill="none"/>
<path d="M1962 322.5V328" stroke="#000" stroke-width="1.5" fill="none"/>
<path d="M1959 322.5h6M1959 328h6" stroke="#000" stroke-width="1.5" fill="none"/>
<path d="M2103.5 306.8L2116.5 319.8M2103.5 319.8L2116.5 306.8" stroke="#000" stroke-width="2" fill="none"/>
<line x1="1510.6" y1="329.8" x2="1705.4" y2="173.24" stroke="#008000" stroke-width="1.75" stroke-linecap="butt"/>
<line x1="1510.6" y1="329.8" x2="1705.4" y2="208.04" stroke="#7f00ff" stroke-width="1.75" stroke-linecap="butt"/>
<line x1="1510.6" y1="329.8" x2="2110" y2="314.5" stroke="#000" stroke-width="1.3" stroke-linecap="butt"/>
<circle cx="1556.1" cy="74.8" r="6.6" fill="#fff" stroke="#008000" stroke-width="1.75"/>
<text x="1575" y="84.6" font-size="24.75" text-anchor="start" font-weight="normal" ><tspan font-style="italic">R</tspan> = 7.0 nmol l<tspan dy="-8.5" font-size="17">−1</tspan><tspan dy="8.5"> yr</tspan><tspan dy="-8.5" font-size="17">−1</tspan><tspan dy="8.5"> (</tspan><tspan font-style="italic">R</tspan><tspan dy="-8.5" font-size="17">2</tspan><tspan dy="8.5"> = 0.978)</tspan></text>
<circle cx="1556.1" cy="101.7" r="6.6" fill="#fff" stroke="#7f00ff" stroke-width="1.75"/>
<text x="1575" y="111.2" font-size="24.75" text-anchor="start" font-weight="normal" ><tspan font-style="italic">R</tspan> = 5.0 nmol l<tspan dy="-8.5" font-size="17">−1</tspan><tspan dy="8.5"> yr</tspan><tspan dy="-8.5" font-size="17">−1</tspan><tspan dy="8.5"> (</tspan><tspan font-style="italic">R</tspan><tspan dy="-8.5" font-size="17">2</tspan><tspan dy="8.5"> = 0.904)</tspan></text>
<path d="M1550.3 122.5L1562.3 134.5M1550.3 134.5L1562.3 122.5" stroke="#000" stroke-width="1.5" fill="none"/>
<text x="1575" y="136.9" font-size="24.75" text-anchor="start" font-weight="normal" ><tspan font-style="italic">R</tspan> = 0.2 nmol l<tspan dy="-8.5" font-size="17">−1</tspan><tspan dy="8.5"> yr</tspan><tspan dy="-8.5" font-size="17">−1</tspan><tspan dy="8.5">(</tspan><tspan font-style="italic">R</tspan><tspan dy="-8.5" font-size="17">2</tspan><tspan dy="8.5"> = 0.878)</tspan></text>
<path d="M1510.6 364.8V641H2133.56" stroke="#000" stroke-width="2" fill="none" stroke-linejoin="miter" stroke-linecap="square"/>
<path d="M1510.6 502.8h15M1510.6 364.6h15M1588.47 641v-10.5M1666.34 641v-10.5M1744.21 641v-10.5M1822.08 641v-10.5M1899.95 641v-10.5M1977.82 641v-10.5M2055.69 641v-10.5M2133.56 641v-10.5" stroke="#000" stroke-width="2" fill="none"/>
<text x="1495.2" y="652" font-size="25.2" text-anchor="end" font-weight="normal" >0</text>
<text x="1495.2" y="513.8" font-size="25.2" text-anchor="end" font-weight="normal" >1</text>
<text x="1495.2" y="373.6" font-size="25.2" text-anchor="end" font-weight="normal" >2</text>
<line x1="1510.6" y1="637.6" x2="2110" y2="411.3" stroke="#008000" stroke-width="1.9" stroke-linecap="butt"/>
<line x1="1510.6" y1="639.3" x2="2110" y2="480.1" stroke="#008000" stroke-width="1.9" stroke-linecap="butt"/>
<line x1="1510.6" y1="640" x2="2110" y2="542.5" stroke="#008000" stroke-width="1.9" stroke-linecap="butt"/>
<path d="M1962 556V556" stroke="#008000" stroke-width="1.25" fill="none"/>
<path d="M1957.8 556h8.4" stroke="#008000" stroke-width="1.25" fill="none"/>
<path d="M2110 538.3V563.3" stroke="#008000" stroke-width="1.25" fill="none"/>
<path d="M2105.8 538.3h8.4M2105.8 563.3h8.4" stroke="#008000" stroke-width="1.25" fill="none"/>
<path d="M1962 505.5V543" stroke="#008000" stroke-width="1.25" fill="none"/>
<path d="M1957.8 505.5h8.4M1957.8 543h8.4" stroke="#008000" stroke-width="1.25" fill="none"/>
<path d="M2110 439.7V495.1" stroke="#008000" stroke-width="1.25" fill="none"/>
<path d="M2105.8 439.7h8.4M2105.8 495.1h8.4" stroke="#008000" stroke-width="1.25" fill="none"/>
<path d="M1619.6 573.9V593.9" stroke="#008000" stroke-width="1.25" fill="none"/>
<path d="M1615.4 573.9h8.4M1615.4 593.9h8.4" stroke="#008000" stroke-width="1.25" fill="none"/>
<path d="M1635.4 586.3V600.6" stroke="#008000" stroke-width="1.25" fill="none"/>
<path d="M1631.2 586.3h8.4M1631.2 600.6h8.4" stroke="#008000" stroke-width="1.25" fill="none"/>
<path d="M1962 472.7V491.7" stroke="#008000" stroke-width="1.25" fill="none"/>
<path d="M1957.8 472.7h8.4M1957.8 491.7h8.4" stroke="#008000" stroke-width="1.25" fill="none"/>
<path d="M2110 391.2V403.8" stroke="#008000" stroke-width="1.25" fill="none"/>
<path d="M2105.8 391.2h8.4M2105.8 403.8h8.4" stroke="#008000" stroke-width="1.25" fill="none"/>
<path d="M1534 632.4L1541.9 647.4H1526.1Z" fill="#008000"/>
<path d="M1549.6 626.4L1557.5 641.4H1541.7Z" fill="#008000"/>
<path d="M1573.1 623.9L1581 638.9H1565.2Z" fill="#008000"/>
<path d="M1596.6 623.2L1604.5 638.2H1588.7Z" fill="#008000"/>
<path d="M1619.6 614.4L1627.5 629.4H1611.7Z" fill="#008000"/>
<path d="M1635.4 611.6L1643.3 626.6H1627.5Z" fill="#008000"/>
<path d="M1658.8 604.9L1666.7 619.9H1650.9Z" fill="#008000"/>
<path d="M1682.2 603.7L1690.1 618.7H1674.3Z" fill="#008000"/>
<path d="M1705.4 597.8L1713.3 612.8H1697.5Z" fill="#008000"/>
<path d="M1962 554.9L1969.9 569.9H1954.1Z" fill="#008000"/>
<path d="M2110 543.3L2117.9 558.3H2102.1Z" fill="#008000"/>
<rect x="1502.8" y="633.7" width="15.6" height="15.6" fill="#008000"/>
<rect x="1526.2" y="629.2" width="15.6" height="15.6" fill="#008000"/>
<rect x="1541.8" y="621.5" width="15.6" height="15.6" fill="#008000"/>
<rect x="1565.3" y="617.7" width="15.6" height="15.6" fill="#008000"/>
<rect x="1588.8" y="605.9" width="15.6" height="15.6" fill="#008000"/>
<rect x="1611.8" y="610.7" width="15.6" height="15.6" fill="#008000"/>
<rect x="1627.6" y="616.7" width="15.6" height="15.6" fill="#008000"/>
<rect x="1651" y="593.3" width="15.6" height="15.6" fill="#008000"/>
<rect x="1674.4" y="585.2" width="15.6" height="15.6" fill="#008000"/>
<rect x="1697.6" y="572.5" width="15.6" height="15.6" fill="#008000"/>
<rect x="1954.2" y="516.7" width="15.6" height="15.6" fill="#008000"/>
<rect x="2102.2" y="459.6" width="15.6" height="15.6" fill="#008000"/>
<circle cx="1510.6" cy="641" r="7.7" fill="#008000"/>
<circle cx="1534" cy="634" r="7.7" fill="#008000"/>
<circle cx="1549.6" cy="612" r="7.7" fill="#008000"/>
<circle cx="1573.1" cy="614.4" r="7.7" fill="#008000"/>
<circle cx="1596.6" cy="589.4" r="7.7" fill="#008000"/>
<circle cx="1619.6" cy="583.9" r="7.7" fill="#008000"/>
<circle cx="1635.4" cy="593" r="7.7" fill="#008000"/>
<circle cx="1658.8" cy="576.7" r="7.7" fill="#008000"/>
<circle cx="1682.2" cy="570" r="7.7" fill="#008000"/>
<circle cx="1705.4" cy="561.9" r="7.7" fill="#008000"/>
<circle cx="1962" cy="482.4" r="7.7" fill="#008000"/>
<circle cx="2110" cy="397.4" r="7.7" fill="#008000"/>
<path d="M1504.2 634.6L1517 647.4M1504.2 647.4L1517 634.6" stroke="#000" stroke-width="1.9" fill="none"/>
<path d="M1527.6 634.6L1540.4 647.4M1527.6 647.4L1540.4 634.6" stroke="#000" stroke-width="1.9" fill="none"/>
<path d="M1543.2 634.6L1556 647.4M1543.2 647.4L1556 634.6" stroke="#000" stroke-width="1.9" fill="none"/>
<path d="M1566.7 634.6L1579.5 647.4M1566.7 647.4L1579.5 634.6" stroke="#000" stroke-width="1.9" fill="none"/>
<path d="M1590.2 634.6L1603 647.4M1590.2 647.4L1603 634.6" stroke="#000" stroke-width="1.9" fill="none"/>
<path d="M1613.2 634.6L1626 647.4M1613.2 647.4L1626 634.6" stroke="#000" stroke-width="1.9" fill="none"/>
<path d="M1629 634.6L1641.8 647.4M1629 647.4L1641.8 634.6" stroke="#000" stroke-width="1.9" fill="none"/>
<path d="M1652.4 634.6L1665.2 647.4M1652.4 647.4L1665.2 634.6" stroke="#000" stroke-width="1.9" fill="none"/>
<path d="M1675.8 634.6L1688.6 647.4M1675.8 647.4L1688.6 634.6" stroke="#000" stroke-width="1.9" fill="none"/>
<path d="M1699 634.6L1711.8 647.4M1699 647.4L1711.8 634.6" stroke="#000" stroke-width="1.9" fill="none"/>
<path d="M1955.6 634.6L1968.4 647.4M1955.6 647.4L1968.4 634.6" stroke="#000" stroke-width="1.9" fill="none"/>
<path d="M2103.6 634.6L2116.4 647.4M2103.6 647.4L2116.4 634.6" stroke="#000" stroke-width="1.9" fill="none"/>
<line x1="1510.6" y1="641" x2="2110" y2="638.5" stroke="#000" stroke-width="1" stroke-linecap="butt"/>
<circle cx="1556.5" cy="386.3" r="7.7" fill="#008000"/>
<text x="1575" y="395.3" font-size="24.75" text-anchor="start" font-weight="normal" ><tspan font-style="italic">R</tspan> = 21.4 nmol l<tspan dy="-8.5" font-size="17">−1</tspan><tspan dy="8.5"> yr</tspan><tspan dy="-8.5" font-size="17">−1</tspan><tspan dy="8.5"> (</tspan><tspan font-style="italic">R</tspan><tspan dy="-8.5" font-size="17">2</tspan><tspan dy="8.5"> = 0.983)</tspan></text>
<rect x="1548.7" y="405" width="15.6" height="15.6" fill="#008000"/>
<text x="1575" y="420.6" font-size="24.75" text-anchor="start" font-weight="normal" ><tspan font-style="italic">R</tspan> = 16.2 nmol l<tspan dy="-8.5" font-size="17">−1</tspan><tspan dy="8.5"> yr</tspan><tspan dy="-8.5" font-size="17">−1</tspan><tspan dy="8.5"> (</tspan><tspan font-style="italic">R</tspan><tspan dy="-8.5" font-size="17">2</tspan><tspan dy="8.5"> = 0.989)</tspan></text>
<path d="M1556.5 435.4L1564.4 450.4H1548.6Z" fill="#008000"/>
<text x="1575" y="451.4" font-size="24.75" text-anchor="start" font-weight="normal" ><tspan font-style="italic">R</tspan> = 9.0 nmol l<tspan dy="-8.5" font-size="17">−1</tspan><tspan dy="8.5"> yr</tspan><tspan dy="-8.5" font-size="17">−1</tspan><tspan dy="8.5"> (</tspan><tspan font-style="italic">R</tspan><tspan dy="-8.5" font-size="17">2</tspan><tspan dy="8.5"> = 0.992)</tspan></text>
<path d="M1510.6 676.1V952.4H2133.56" stroke="#000" stroke-width="2" fill="none" stroke-linejoin="miter" stroke-linecap="square"/>
<path d="M1510.6 860.3h15M1510.6 768.2h15M1510.6 676.1h15M1588.47 952.4v-10.5M1666.34 952.4v-10.5M1744.21 952.4v-10.5M1822.08 952.4v-10.5M1899.95 952.4v-10.5M1977.82 952.4v-10.5M2055.69 952.4v-10.5M2133.56 952.4v-10.5" stroke="#000" stroke-width="2" fill="none"/>
<text x="1495.2" y="963.8" font-size="25.2" text-anchor="end" font-weight="normal" >0</text>
<text x="1495.2" y="871.7" font-size="25.2" text-anchor="end" font-weight="normal" >1</text>
<text x="1495.2" y="779.6" font-size="25.2" text-anchor="end" font-weight="normal" >2</text>
<text x="1495.2" y="687.5" font-size="25.2" text-anchor="end" font-weight="normal" >3</text>
<text x="1511.8" y="983.8" font-size="25.2" text-anchor="middle" font-weight="normal" >0</text>
<text x="1589.8" y="983.8" font-size="25.2" text-anchor="middle" font-weight="normal" >0.01</text>
<text x="1667.8" y="983.8" font-size="25.2" text-anchor="middle" font-weight="normal" >0.02</text>
<text x="1745.8" y="983.8" font-size="25.2" text-anchor="middle" font-weight="normal" >0.03</text>
<text x="1823.8" y="983.8" font-size="25.2" text-anchor="middle" font-weight="normal" >0.04</text>
<text x="1901.8" y="983.8" font-size="25.2" text-anchor="middle" font-weight="normal" >0.05</text>
<text x="1979.8" y="983.8" font-size="25.2" text-anchor="middle" font-weight="normal" >0.06</text>
<text x="2057.8" y="983.8" font-size="25.2" text-anchor="middle" font-weight="normal" >0.07</text>
<text x="2135.8" y="983.8" font-size="25.2" text-anchor="middle" font-weight="normal" >0.08</text>
<text x="1776.5" y="1018.1" font-size="24.3" text-anchor="start" font-weight="normal" >Time (yr)</text>
<line x1="1510.6" y1="952.4" x2="2110" y2="744.1" stroke="#6600d4" stroke-width="1.85" stroke-linecap="butt"/>
<line x1="1510.6" y1="952.4" x2="2110" y2="860" stroke="#6600d4" stroke-width="1.85" stroke-linecap="butt"/>
<line x1="1510.6" y1="952.4" x2="2110" y2="889.6" stroke="#6600d4" stroke-width="1.85" stroke-linecap="butt"/>
<path d="M1962 896.9V896.9" stroke="#6600d4" stroke-width="1.25" fill="none"/>
<path d="M1957.8 896.9h8.4" stroke="#6600d4" stroke-width="1.25" fill="none"/>
<path d="M2110 896.9V896.9" stroke="#6600d4" stroke-width="1.25" fill="none"/>
<path d="M2105.8 896.9h8.4" stroke="#6600d4" stroke-width="1.25" fill="none"/>
<path d="M2110 838.4V861" stroke="#6600d4" stroke-width="1.25" fill="none"/>
<path d="M2105.8 838.4h8.4M2105.8 861h8.4" stroke="#6600d4" stroke-width="1.25" fill="none"/>
<path d="M1962 789.6V834.4" stroke="#6600d4" stroke-width="1.25" fill="none"/>
<path d="M1957.8 789.6h8.4M1957.8 834.4h8.4" stroke="#6600d4" stroke-width="1.25" fill="none"/>
<path d="M2110 691.6V767.6" stroke="#6600d4" stroke-width="1.25" fill="none"/>
<path d="M2105.8 691.6h8.4M2105.8 767.6h8.4" stroke="#6600d4" stroke-width="1.25" fill="none"/>
<path d="M1534 942.4L1541.9 957.4H1526.1Z" fill="#7f00ff"/>
<path d="M1549.6 941.4L1557.5 956.4H1541.7Z" fill="#7f00ff"/>
<path d="M1573.1 940.4L1581 955.4H1565.2Z" fill="#7f00ff"/>
<path d="M1596.6 939.4L1604.5 954.4H1588.7Z" fill="#7f00ff"/>
<path d="M1619.6 938.4L1627.5 953.4H1611.7Z" fill="#7f00ff"/>
<path d="M1635.4 936.9L1643.3 951.9H1627.5Z" fill="#7f00ff"/>
<path d="M1658.8 935.4L1666.7 950.4H1650.9Z" fill="#7f00ff"/>
<path d="M1682.2 931.6L1690.1 946.6H1674.3Z" fill="#7f00ff"/>
<path d="M1705.4 907.9L1713.3 922.9H1697.5Z" fill="#7f00ff"/>
<path d="M1962 895.4L1969.9 910.4H1954.1Z" fill="#7f00ff"/>
<path d="M2110 896.8L2117.9 911.8H2102.1Z" fill="#7f00ff"/>
<rect x="1502.8" y="944.6" width="15.6" height="15.6" fill="#7f00ff"/>
<rect x="1526.2" y="940.2" width="15.6" height="15.6" fill="#7f00ff"/>
<rect x="1541.8" y="939.3" width="15.6" height="15.6" fill="#7f00ff"/>
<rect x="1565.3" y="938.4" width="15.6" height="15.6" fill="#7f00ff"/>
<rect x="1588.8" y="937.5" width="15.6" height="15.6" fill="#7f00ff"/>
<rect x="1611.8" y="934.5" width="15.6" height="15.6" fill="#7f00ff"/>
<rect x="1627.6" y="925.1" width="15.6" height="15.6" fill="#7f00ff"/>
<rect x="1651" y="925.1" width="15.6" height="15.6" fill="#7f00ff"/>
<rect x="1674.4" y="915.6" width="15.6" height="15.6" fill="#7f00ff"/>
<rect x="1697.6" y="906.8" width="15.6" height="15.6" fill="#7f00ff"/>
<rect x="1954.2" y="879.1" width="15.6" height="15.6" fill="#7f00ff"/>
<rect x="2102.2" y="841.9" width="15.6" height="15.6" fill="#7f00ff"/>
<circle cx="1510.6" cy="952.4" r="7.9" fill="#6600d4"/>
<circle cx="1534" cy="944.1" r="7.9" fill="#6600d4"/>
<circle cx="1549.6" cy="930.1" r="7.9" fill="#6600d4"/>
<circle cx="1573.1" cy="924" r="7.9" fill="#6600d4"/>
<circle cx="1596.6" cy="909.1" r="7.9" fill="#6600d4"/>
<circle cx="1619.6" cy="906.4" r="7.9" fill="#6600d4"/>
<circle cx="1635.4" cy="899.7" r="7.9" fill="#6600d4"/>
<circle cx="1658.8" cy="893.8" r="7.9" fill="#6600d4"/>
<circle cx="1682.2" cy="893.1" r="7.9" fill="#6600d4"/>
<circle cx="1705.4" cy="884.7" r="7.9" fill="#6600d4"/>
<circle cx="1962" cy="812" r="7.9" fill="#6600d4"/>
<circle cx="2110" cy="729.3" r="7.9" fill="#6600d4"/>
<path d="M1504.2 945.9L1517 958.7M1504.2 958.7L1517 945.9" stroke="#000" stroke-width="1.9" fill="none"/>
<path d="M1527.6 945.9L1540.4 958.7M1527.6 958.7L1540.4 945.9" stroke="#000" stroke-width="1.9" fill="none"/>
<path d="M1543.2 945.9L1556 958.7M1543.2 958.7L1556 945.9" stroke="#000" stroke-width="1.9" fill="none"/>
<path d="M1566.7 945.9L1579.5 958.7M1566.7 958.7L1579.5 945.9" stroke="#000" stroke-width="1.9" fill="none"/>
<path d="M1590.2 945.9L1603 958.7M1590.2 958.7L1603 945.9" stroke="#000" stroke-width="1.9" fill="none"/>
<path d="M1613.2 945.9L1626 958.7M1613.2 958.7L1626 945.9" stroke="#000" stroke-width="1.9" fill="none"/>
<path d="M1629 945.9L1641.8 958.7M1629 958.7L1641.8 945.9" stroke="#000" stroke-width="1.9" fill="none"/>
<path d="M1652.4 945.9L1665.2 958.7M1652.4 958.7L1665.2 945.9" stroke="#000" stroke-width="1.9" fill="none"/>
<path d="M1675.8 945.9L1688.6 958.7M1675.8 958.7L1688.6 945.9" stroke="#000" stroke-width="1.9" fill="none"/>
<path d="M1699 945.9L1711.8 958.7M1699 958.7L1711.8 945.9" stroke="#000" stroke-width="1.9" fill="none"/>
<path d="M1955.6 945.9L1968.4 958.7M1955.6 958.7L1968.4 945.9" stroke="#000" stroke-width="1.9" fill="none"/>
<path d="M2103.6 945.1L2116.4 957.9M2103.6 957.9L2116.4 945.1" stroke="#000" stroke-width="1.9" fill="none"/>
<line x1="1510.6" y1="952.4" x2="2110" y2="950.9" stroke="#000" stroke-width="1" stroke-linecap="butt"/>
<circle cx="1556.4" cy="699.3" r="7.6" fill="#6600d4"/>
<text x="1575" y="709.3" font-size="24.75" text-anchor="start" font-weight="normal" ><tspan font-style="italic">R</tspan> = 29.0 nmol l<tspan dy="-8.5" font-size="17">−1</tspan><tspan dy="8.5"> yr</tspan><tspan dy="-8.5" font-size="17">−1</tspan><tspan dy="8.5"> (</tspan><tspan font-style="italic">R</tspan><tspan dy="-8.5" font-size="17">2</tspan><tspan dy="8.5"> = 0.983)</tspan></text>
<rect x="1548.6" y="719.2" width="15.6" height="15.6" fill="#6600d4"/>
<text x="1575" y="735.1" font-size="24.75" text-anchor="start" font-weight="normal" ><tspan font-style="italic">R</tspan> = 14.2 nmol l<tspan dy="-8.5" font-size="17">−1</tspan><tspan dy="8.5"> yr</tspan><tspan dy="-8.5" font-size="17">−1</tspan><tspan dy="8.5"> (</tspan><tspan font-style="italic">R</tspan><tspan dy="-8.5" font-size="17">2</tspan><tspan dy="8.5"> = 0.986)</tspan></text>
<path d="M1556.4 746.4L1564.3 761.4H1548.5Z" fill="#6600d4"/>
<text x="1575" y="762.8" font-size="24.75" text-anchor="start" font-weight="normal" ><tspan font-style="italic">R</tspan> = 8.0 nmol l<tspan dy="-8.5" font-size="17">−1</tspan><tspan dy="8.5"> yr</tspan><tspan dy="-8.5" font-size="17">−1</tspan><tspan dy="8.5"> (</tspan><tspan font-style="italic">R</tspan><tspan dy="-8.5" font-size="17">2</tspan><tspan dy="8.5"> = 0.912)</tspan></text>
<text transform="translate(1449.2,507.8) rotate(-90)" font-size="24.95" text-anchor="middle">Geopolymerized substances (nmol l<tspan dy="-8.5" font-size="17">−1</tspan><tspan dy="8.5">)</tspan></text>
<text transform="translate(1431,27.8) scale(1.14,1)" font-size="32" font-weight="bold">e</text>
<circle cx="1532" cy="1078.1" r="6.3" fill="#fff" stroke="#008000" stroke-width="1.75"/>
<circle cx="1559.5" cy="1078.1" r="6.3" fill="#fff" stroke="#7f00ff" stroke-width="1.75"/>
<circle cx="1881" cy="1078.1" r="8" fill="#008000"/>
<circle cx="1908.4" cy="1078.1" r="8" fill="#7f00ff"/>
<text x="1577.3" y="1087.2" font-size="24.7" text-anchor="start" font-weight="normal" >Fe/Mn (aq) 400 µmol l<tspan dy="-8.5" font-size="17">−1</tspan></text>
<text x="1928.6" y="1087.2" font-size="24.5" text-anchor="start" font-weight="normal" >Fe/Mn (s) 2.5 g l<tspan dy="-8.5" font-size="17">−1</tspan></text>
<rect x="1525.6" y="1106.2" width="12.8" height="12.8" fill="#fff" stroke="#008000" stroke-width="1.5"/>
<rect x="1553.1" y="1106.2" width="12.8" height="12.8" fill="#fff" stroke="#7f00ff" stroke-width="1.5"/>
<rect x="1873.2" y="1104.8" width="15.6" height="15.6" fill="#008000"/>
<rect x="1900.6" y="1104.8" width="15.6" height="15.6" fill="#7f00ff"/>
<text x="1577.3" y="1120.8" font-size="24.7" text-anchor="start" font-weight="normal" >Fe/Mn (aq) 300 µmol l<tspan dy="-8.5" font-size="17">−1</tspan></text>
<text x="1928.6" y="1120.8" font-size="24.5" text-anchor="start" font-weight="normal" >Fe/Mn (s) 1.5 g l<tspan dy="-8.5" font-size="17">−1</tspan></text>
<path d="M1532 1140L1538.6 1153.2H1525.4Z" fill="#fff" stroke="#008000" stroke-width="1.5" stroke-linejoin="miter"/>
<path d="M1559.5 1140L1566.1 1153.2H1552.9Z" fill="#fff" stroke="#7f00ff" stroke-width="1.5" stroke-linejoin="miter"/>
<path d="M1881 1139.4L1888.9 1154.4H1873.1Z" fill="#008000"/>
<path d="M1908.4 1139.4L1916.3 1154.4H1900.5Z" fill="#7f00ff"/>
<text x="1577.3" y="1155.3" font-size="24.7" text-anchor="start" font-weight="normal" >Fe/Mn (aq) 150 µmol l<tspan dy="-8.5" font-size="17">−1</tspan></text>
<text x="1928.6" y="1155.3" font-size="24.5" text-anchor="start" font-weight="normal" >Fe/Mn (s) 0.5 g l<tspan dy="-8.5" font-size="17">−1</tspan></text>
<path d="M1553.3 1176.6L1565.7 1189M1553.3 1189L1565.7 1176.6" stroke="#000" stroke-width="1.6" fill="none"/>
<text x="1577.5" y="1190.4" font-size="25.4" text-anchor="start" font-weight="normal" >No catalyst</text>
</svg>
</body></html>
